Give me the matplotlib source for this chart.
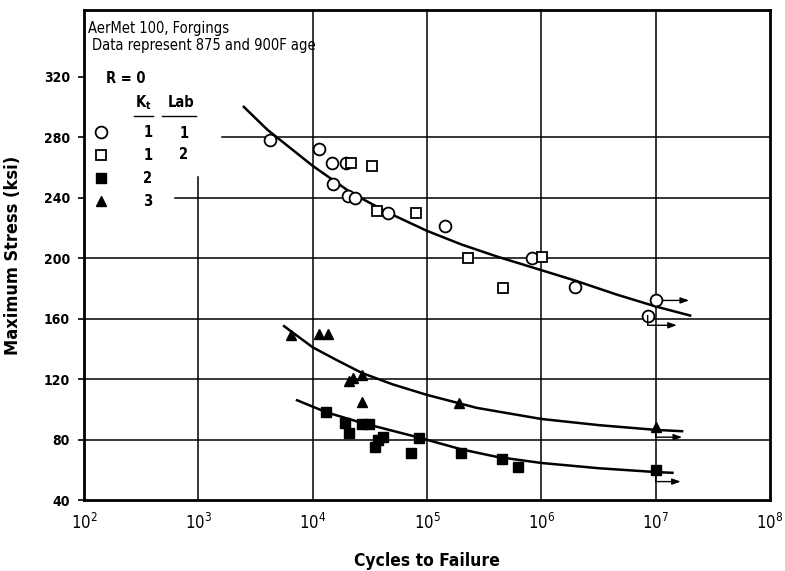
import numpy as np
import matplotlib.pyplot as plt
from matplotlib.transforms import offset_copy

plt.rcParams['font.family'] = ['DejaVu Sans']
plt.rcParams['font.stretch'] = 'condensed'

# Kt = 1, lab 1 (open circles)
kt1_lab1_cycles = [4260, 11300, 14900, 19600, 15200, 20400, 23500, 45200, 143000, 830000, 1.95e6, 1e7, 8.5e6]
kt1_lab1_stress = [278, 272, 263, 263, 249, 241, 240, 230, 221, 200, 181, 172, 162]
# Kt = 1, lab 2 (open squares)
kt1_lab2_cycles = [21700, 32900, 36500, 80000, 227000, 457000, 1.02e6]
kt1_lab2_stress = [263, 261, 231, 230, 200, 180, 201]
# Kt = 2 (filled squares)
kt2_cycles = [13200, 19000, 20600, 27000, 31000, 35000, 37500, 41000, 72000, 85000, 200000, 450000, 630000, 1e7]
kt2_stress = [98, 91, 84, 90, 90, 75, 80, 82, 71, 81, 71, 67, 62, 60]
# Kt = 3 (filled triangles)
kt3_cycles = [6500, 11300, 13700, 20800, 22500, 27000, 27000, 190000, 1e7]
kt3_stress = [149, 150, 150, 119, 121, 123, 105, 104, 88]

# fitted curves
fit_kt1_cycles = [2500, 4000, 1e4, 21900, 45700, 1e5, 2e5, 4.1e5, 1e6, 2e6, 4.5e6, 1e7, 2e7]
fit_kt1_stress = [300, 285, 261, 243, 230, 218, 209, 201, 192, 185, 176, 168, 162]
fit_kt3_cycles = [5620, 1e4, 15800, 27000, 50000, 1e5, 1.6e5, 2.7e5, 5e5, 1e6, 3.2e6, 1e7, 1.7e7]
fit_kt3_stress = [155, 141, 133, 124, 116.5, 109.5, 105.5, 101, 97.5, 93.6, 89.5, 86.4, 85.5]
fit_kt2_cycles = [7300, 13200, 27000, 83000, 2e5, 4.1e5, 1e6, 3.2e6, 1e7, 1.4e7]
fit_kt2_stress = [106, 98, 91, 81.5, 73.5, 68.5, 64.5, 61, 58.5, 58]

# runouts: (cycles, stress, drop in points, arrow length in points)
runouts = [(1e7, 172, 0, 24), (8.5e6, 162, 7, 21), (1e7, 88, 7, 19), (1e7, 60, 8.5, 18)]

legend_kt = ['1', '1', '2', '3']
legend_lab = ['1', '2', '', '']

yticks = [40, 80, 120, 160, 200, 240, 280, 320]
xdecades = [2, 3, 4, 5, 6, 7, 8]

fig = plt.figure(figsize=(7.85, 5.71), dpi=100)
ax = fig.add_axes([0.107, 0.1243, 0.874, 0.858])

ax.set_xscale('log')
ax.set_xlim(1e2, 1e8)
ax.set_ylim(40, 364)

# grid lines (some stop short of the legend block)
for y in yticks[1:-1]:
    start = 0.0
    if y == 280:
        start = 0.201
    elif y == 240:
        start = 0.133
    ax.axhline(y, xmin=start, color='black', lw=1.1, zorder=1)
for d in xdecades[1:-1]:
    top = 0.659 if d == 3 else 1.0
    ax.axvline(10.0 ** d, ymax=top, color='black', lw=1.1, zorder=1)

ax.plot(fit_kt1_cycles, fit_kt1_stress, color='black', lw=1.8, zorder=2)
ax.plot(fit_kt3_cycles, fit_kt3_stress, color='black', lw=1.8, zorder=2)
ax.plot(fit_kt2_cycles, fit_kt2_stress, color='black', lw=1.8, zorder=2)

h1, = ax.plot(kt1_lab1_cycles, kt1_lab1_stress, 'o', ms=8.5, mfc='white', mec='black', mew=1.3, zorder=3)
h2, = ax.plot(kt1_lab2_cycles, kt1_lab2_stress, 's', ms=7.5, mfc='white', mec='black', mew=1.3, zorder=3)
h3, = ax.plot(kt2_cycles, kt2_stress, 's', ms=7.5, color='black', zorder=3)
h4, = ax.plot(kt3_cycles, kt3_stress, '^', ms=7, color='black', zorder=3)

for x, y, drop, length in runouts:
    start = offset_copy(ax.transData, fig=fig, x=0 if drop else 5, y=-drop, units='points')
    end = offset_copy(ax.transData, fig=fig, x=length, y=-drop, units='points')
    if drop:
        ax.annotate('', xy=(x, y), xytext=(x, y), textcoords=start,
                    arrowprops=dict(arrowstyle='-', lw=1.0, color='black', shrinkA=0, shrinkB=0))
    ax.annotate('', xy=(x, y), xycoords=end, xytext=(x, y), textcoords=start,
                arrowprops=dict(arrowstyle='-|>,head_length=0.5,head_width=0.18', lw=1.0,
                                color='black', shrinkA=0, shrinkB=0))

# legend block
fs = 10.5
ax.text(0.006, 0.963, 'AerMet 100, Forgings', transform=ax.transAxes, fontsize=fs, va='center')
ax.text(0.012, 0.927, 'Data represent 875 and 900F age', transform=ax.transAxes, fontsize=fs, va='center')
ax.text(0.032, 0.861, 'R = 0', transform=ax.transAxes, fontsize=fs, va='center', weight='bold')
ax.text(0.086, 0.812, r'K$_{\mathregular{t}}$', transform=ax.transAxes, fontsize=fs, va='center', ha='center', weight='bold')
ax.text(0.141, 0.812, 'Lab', transform=ax.transAxes, fontsize=fs, va='center', ha='center', weight='bold')
ax.plot([0.073, 0.100], [0.783, 0.783], transform=ax.transAxes, color='black', lw=1.0)
ax.plot([0.114, 0.163], [0.783, 0.783], transform=ax.transAxes, color='black', lw=1.0)

leg = ax.legend([h1, h2, h3, h4], legend_kt, loc='upper left', bbox_to_anchor=(0.014, 0.765),
                frameon=False, borderpad=0, borderaxespad=0, handlelength=1.0,
                handletextpad=2.4, labelspacing=0.55, numpoints=1,
                prop={'weight': 'bold', 'size': fs, 'stretch': 'condensed'})
for i, lab in enumerate(legend_lab):
    ax.text(0.139, 0.749 - i * 0.044, lab, transform=ax.transAxes, fontsize=fs,
            va='center', weight='bold')

ax.set_yticks(yticks)
ax.set_yticklabels([str(v) for v in yticks], fontsize=10, weight='bold')
ax.set_xticks([10.0 ** d for d in xdecades])
ax.set_xticklabels([r'10$^{\mathregular{%d}}$' % d for d in xdecades], fontsize=12)
ax.minorticks_off()
ax.tick_params(axis='y', length=4, width=1.2, pad=6)
ax.tick_params(axis='x', length=0, pad=9)

for s in ax.spines.values():
    s.set_linewidth(2.0)

ax.set_xlabel('Cycles to Failure', fontsize=12.5, weight='bold', labelpad=14)
ax.set_ylabel('Maximum Stress (ksi)', fontsize=13, weight='bold', labelpad=16)

plt.savefig('out.png', dpi=100)
